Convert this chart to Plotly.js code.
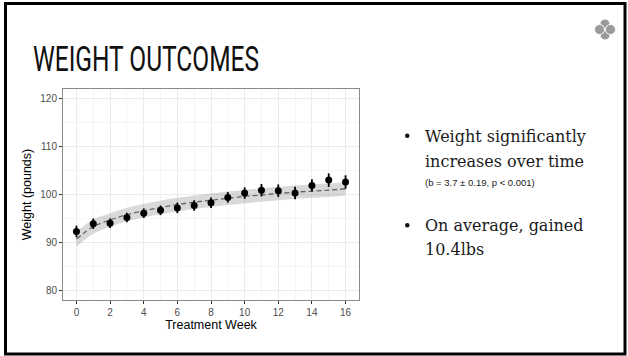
<!DOCTYPE html>
<html>
<head>
<meta charset="utf-8">
<script src="https://cdn.plot.ly/plotly-3.0.1.min.js"></script>
<style>
  html, body { margin: 0; padding: 0; background: #ffffff; }
  #chart { width: 628px; height: 356px; }
</style>
</head>
<body>
<div id="chart"></div>
<script>
// Weekly mean weight (lbs) with standard errors
const weeks = [0, 1, 2, 3, 4, 5, 6, 7, 8, 9, 10, 11, 12, 13, 14, 15, 16];
const meanWeight = [92.3, 93.9, 94.0, 95.2, 96.1, 96.7, 97.2, 97.7, 98.3, 99.4, 100.3, 100.9, 100.8, 100.3, 101.9, 103.0, 102.6];
const seWeight = [1.2, 1.1, 1.0, 1.0, 1.0, 1.0, 1.1, 1.1, 1.1, 1.1, 1.2, 1.3, 1.3, 1.3, 1.3, 1.4, 1.4];

// Fitted growth curve and its confidence band
const fitWeight = [90.7, 93.3, 94.7, 95.8, 96.6, 97.3, 97.9, 98.4, 98.8, 99.2, 99.6, 99.9, 100.2, 100.5, 100.7, 100.9, 101.2];
const fitLower = [89.1, 91.8, 93.3, 94.4, 95.2, 95.9, 96.5, 97.0, 97.4, 97.8, 98.2, 98.5, 98.8, 99.1, 99.3, 99.5, 99.8];
const fitUpper = [92.3, 94.8, 96.1, 97.2, 98.0, 98.7, 99.3, 99.8, 100.2, 100.6, 101.0, 101.3, 101.6, 101.9, 102.1, 102.3, 102.6];

const xTickVals = [0, 2, 4, 6, 8, 10, 12, 14, 16];
const yTickVals = [80, 90, 100, 110, 120];

const slideTitle = 'WEIGHT OUTCOMES';
const bulletLines = ['Weight significantly', 'increases over time', 'On average, gained', '10.4lbs'];
const statNote = '(b = 3.7 \u00b1 0.19, p < 0.001)';

// page geometry (pixels) -> paper coordinates
const W = 628, H = 356;
const M = { l: 63, r: 269, t: 89, b: 56 };
const PW = W - M.l - M.r, PH = H - M.t - M.b;
const fx = x => (x - M.l) / PW;
const fy = y => 1 - (y - M.t) / PH;

const tickFont = { family: 'Liberation Sans, Arial, sans-serif', size: 10, color: '#4d4d4d' };
const axisTitleFont = { family: 'Liberation Sans, Arial, sans-serif', size: 12.5, color: '#000000' };

const traces = [
  {
    x: weeks, y: fitLower, type: 'scatter', mode: 'lines',
    line: { width: 0, color: 'rgba(0,0,0,0)', shape: 'spline' }, hoverinfo: 'skip'
  },
  {
    x: weeks, y: fitUpper, type: 'scatter', mode: 'lines', fill: 'tonexty',
    fillcolor: 'rgba(150,150,150,0.36)',
    line: { width: 0, color: 'rgba(0,0,0,0)', shape: 'spline' }, hoverinfo: 'skip'
  },
  {
    x: weeks, y: fitWeight, type: 'scatter', mode: 'lines',
    line: { color: '#666666', width: 1.3, dash: '5px,3px', shape: 'spline' }, hoverinfo: 'skip'
  },
  {
    x: weeks, y: meanWeight, type: 'scatter', mode: 'markers',
    marker: { color: '#000000', size: 7 },
    error_y: { type: 'data', array: seWeight, visible: true, thickness: 1.8, width: 0, color: '#000000' },
    hoverinfo: 'x+y'
  }
];

const shapes = [
  // slide frame
  { type: 'rect', xref: 'paper', yref: 'paper', x0: fx(5.5), x1: fx(625), y0: fy(3.5), y1: fy(354),
    line: { color: '#000000', width: 3 }, fillcolor: 'rgba(0,0,0,0)', layer: 'above' },
  // bullet dots
  { type: 'circle', xref: 'paper', yref: 'paper', x0: fx(405), x1: fx(409.5), y0: fy(133.5), y1: fy(138),
    fillcolor: '#111111', line: { width: 0 } },
  { type: 'circle', xref: 'paper', yref: 'paper', x0: fx(405), x1: fx(409.5), y0: fy(223), y1: fy(227.5),
    fillcolor: '#111111', line: { width: 0 } }
];
// corner logo: four overlapping rings
[[605, 24], [605, 35], [599.5, 29.5], [610.5, 29.5]].forEach(([cx, cy]) => {
  shapes.push({ type: 'circle', xref: 'paper', yref: 'paper',
    x0: fx(cx - 5), x1: fx(cx + 5), y0: fy(cy - 5), y1: fy(cy + 5),
    fillcolor: '#9a9a9a', line: { color: '#ffffff', width: 1 } });
});

const serif = { family: 'DejaVu Serif, Liberation Serif, serif', size: 16, color: '#1a1a1a' };
const annotations = [
  { text: slideTitle, xref: 'paper', yref: 'paper', x: fx(31), y: fy(59), xanchor: 'left', yanchor: 'middle',
    align: 'left', showarrow: false, font: { family: 'Roboto, Liberation Sans, sans-serif', size: 35, weight: 400, color: '#111111' } },
  { text: bulletLines[0], xref: 'paper', yref: 'paper', x: fx(423), y: fy(136), xanchor: 'left', yanchor: 'middle', align: 'left', showarrow: false, font: serif },
  { text: bulletLines[1], xref: 'paper', yref: 'paper', x: fx(423), y: fy(161), xanchor: 'left', yanchor: 'middle', align: 'left', showarrow: false, font: serif },
  { text: statNote, xref: 'paper', yref: 'paper', x: fx(423), y: fy(182), xanchor: 'left', yanchor: 'middle', align: 'left', showarrow: false,
    font: { family: 'Liberation Sans, Arial, sans-serif', size: 9.5, color: '#1a1a1a' } },
  { text: bulletLines[2], xref: 'paper', yref: 'paper', x: fx(423), y: fy(225), xanchor: 'left', yanchor: 'middle', align: 'left', showarrow: false, font: serif },
  { text: bulletLines[3], xref: 'paper', yref: 'paper', x: fx(423), y: fy(249), xanchor: 'left', yanchor: 'middle', align: 'left', showarrow: false, font: serif }
];

const layout = {
  width: W, height: H,
  margin: { l: M.l, r: M.r, t: M.t, b: M.b, pad: 0 },
  paper_bgcolor: '#ffffff', plot_bgcolor: '#ffffff',
  showlegend: false,
  font: { family: 'Liberation Sans, Arial, sans-serif' },
  xaxis: {
    range: [-0.8, 16.8], tickmode: 'array', tickvals: xTickVals, ticktext: xTickVals.map(String),
    ticks: 'outside', ticklen: 3, tickwidth: 1, tickcolor: '#333333', tickfont: tickFont,
    showgrid: true, gridcolor: '#ebebeb', gridwidth: 1,
    minor: { dtick: 1, tick0: 0, showgrid: true, gridcolor: '#f2f2f2', gridwidth: 0.8, ticks: '' },
    showline: true, mirror: true, linecolor: '#8a8a8a', linewidth: 1, zeroline: false,
    title: { text: 'Treatment Week', font: axisTitleFont, standoff: 3 }
  },
  yaxis: {
    range: [78, 122], tickmode: 'array', tickvals: yTickVals, ticktext: yTickVals.map(String),
    ticks: 'outside', ticklen: 3, tickwidth: 1, tickcolor: '#333333', tickfont: tickFont,
    showgrid: true, gridcolor: '#ebebeb', gridwidth: 1,
    minor: { dtick: 5, tick0: 0, showgrid: true, gridcolor: '#f2f2f2', gridwidth: 0.8, ticks: '' },
    showline: true, mirror: true, linecolor: '#8a8a8a', linewidth: 1, zeroline: false,
    title: { text: 'Weight (pounds)', font: axisTitleFont, standoff: 5 }
  },
  shapes: shapes,
  annotations: annotations
};

Plotly.newPlot('chart', traces, layout, { staticPlot: true, displayModeBar: false }).then(gd => {
  // narrow the slide heading to a condensed width
  gd.querySelectorAll('.annotation-text').forEach(t => {
    if (t.textContent === slideTitle) {
      t.setAttribute('textLength', '226');
      t.setAttribute('lengthAdjust', 'spacingAndGlyphs');
    }
  });
});
</script>
</body>
</html>
